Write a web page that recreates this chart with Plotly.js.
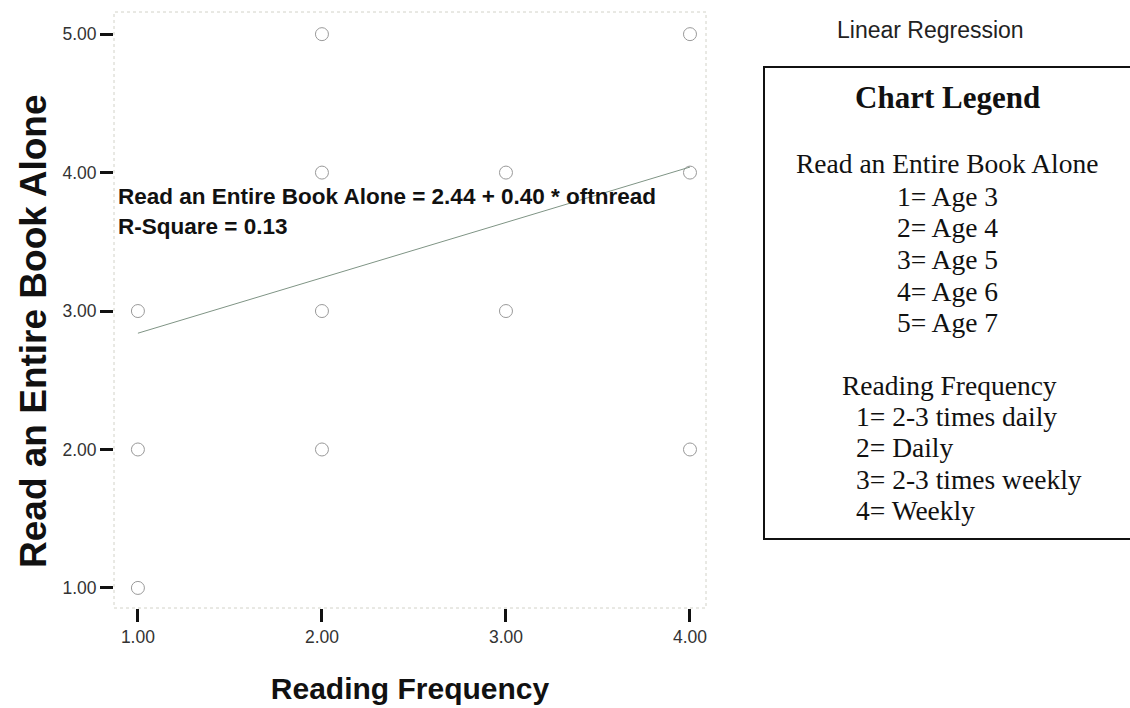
<!DOCTYPE html>
<html>
<head>
<meta charset="utf-8">
<script src="https://cdn.plot.ly/plotly-3.0.1.min.js"></script>
<style>html,body{margin:0;padding:0;background:#fff;}#chart{width:1130px;height:708px;}</style>
</head>
<body>
<div id="chart"></div>
<script>
// Data
const readingFrequency = [1, 1, 1, 2, 2, 2, 2, 3, 3, 4, 4, 4];
const readBookAlone    = [3, 2, 1, 5, 4, 3, 2, 4, 3, 5, 4, 2];
const regressionX = [1, 4];
const regressionY = [2.84, 4.04];
const tickValues = [1, 2, 3, 4, 5];
const xTickValues = [1, 2, 3, 4];
const xAxisTitle = "Reading Frequency";
const yAxisTitle = "Read an Entire Book Alone";
const equationLines = ["Read an Entire Book Alone = 2.44 + 0.40 * oftnread", "R-Square = 0.13"];
const legendTitle = "Chart Legend";
const legendAgeHeader = "Read an Entire Book Alone";
const legendAgeItems = ["1= Age 3", "2= Age 4", "3= Age 5", "4= Age 6", "5= Age 7"];
const legendFreqHeader = "Reading Frequency";
const legendFreqItems = ["1= 2-3 times daily", "2= Daily", "3= 2-3 times weekly", "4= Weekly"];

// Layout geometry (pixels)
const W = 1130, H = 708;
const L = 114, R = 706, T = 12, B = 608;
const px = v => (v - L) / (R - L);
const py = v => (B - v) / (B - T);

const sans = "Liberation Sans, Arial, Helvetica, sans-serif";
const serif = "Liberation Serif, Times New Roman, serif";

const annotations = [];
annotations.push({xref: 'paper', yref: 'paper', x: px(33), y: py(331), xanchor: 'center', yanchor: 'middle',
  textangle: -90, showarrow: false, text: '<b>' + yAxisTitle + '</b>',
  font: {family: sans, size: 37, color: '#111'}});
equationLines.forEach((t, i) => {
  annotations.push({xref: 'paper', yref: 'paper', x: px(116), y: py(196 + i * 30),
    xanchor: 'left', yanchor: 'middle', showarrow: false, text: '<b>' + t + '</b>',
    font: {family: sans, size: 22.5, color: '#111'}});
});
annotations.push({xref: 'paper', yref: 'paper', x: px(930), y: py(30), xanchor: 'center', yanchor: 'middle',
  showarrow: false, text: 'Linear Regression', font: {family: sans, size: 23, color: '#222'}});
annotations.push({xref: 'paper', yref: 'paper', x: px(947), y: py(98), xanchor: 'center', yanchor: 'middle',
  showarrow: false, text: '<b>' + legendTitle + '</b>', font: {family: serif, size: 31, color: '#111'}});
annotations.push({xref: 'paper', yref: 'paper', x: px(947), y: py(164), xanchor: 'center', yanchor: 'middle',
  showarrow: false, text: legendAgeHeader, font: {family: serif, size: 27.5, color: '#111'}});
legendAgeItems.forEach((t, i) => {
  annotations.push({xref: 'paper', yref: 'paper', x: px(947), y: py(196 + i * 31.7), xanchor: 'center', yanchor: 'middle',
    showarrow: false, text: t, font: {family: serif, size: 27.5, color: '#111'}});
});
annotations.push({xref: 'paper', yref: 'paper', x: px(950), y: py(385), xanchor: 'center', yanchor: 'middle',
  showarrow: false, text: legendFreqHeader, font: {family: serif, size: 27.5, color: '#111'}});
legendFreqItems.forEach((t, i) => {
  annotations.push({xref: 'paper', yref: 'paper', x: px(854), y: py(416 + i * 31.5), xanchor: 'left', yanchor: 'middle',
    showarrow: false, text: t, font: {family: serif, size: 27.5, color: '#111'}});
});

const shapes = [
  {type: 'rect', xref: 'paper', yref: 'paper', x0: 0, x1: 1, y0: 0, y1: 1,
   line: {color: '#d2d2c8', width: 1, dash: 'dot'}, layer: 'below'},
  {type: 'rect', xref: 'paper', yref: 'paper', x0: px(764), x1: px(1134), y0: py(539), y1: py(67),
   line: {color: '#111', width: 2}}
];

const traces = [
  {x: readingFrequency, y: readBookAlone, type: 'scatter', mode: 'markers',
   marker: {symbol: 'circle-open', size: 13, color: '#999999', line: {width: 1}}, hoverinfo: 'x+y'},
  {x: regressionX, y: regressionY, type: 'scatter', mode: 'lines',
   line: {color: '#7f9485', width: 1}, hoverinfo: 'skip'}
];

const layout = {
  width: W, height: H,
  margin: {l: L, r: W - R, t: T, b: H - B},
  paper_bgcolor: '#fff', plot_bgcolor: '#fff',
  showlegend: false,
  xaxis: {range: [0.87, 4.087], tickvals: xTickValues, tickformat: '.2f',
    ticks: 'outside', ticklen: 13, tickwidth: 3, tickcolor: '#111',
    showgrid: false, zeroline: false, showline: false,
    tickfont: {family: sans, size: 17.5, color: '#333'},
    title: {text: '<b>' + xAxisTitle + '</b>', font: {family: sans, size: 30, color: '#111'}, standoff: 31}},
  yaxis: {range: [0.855, 5.16], tickvals: tickValues, tickformat: '.2f',
    ticks: 'outside', ticklen: 13, tickwidth: 3, tickcolor: '#111',
    showgrid: false, zeroline: false, showline: false,
    tickfont: {family: sans, size: 17.5, color: '#333'}},
  annotations: annotations,
  shapes: shapes
};

Plotly.newPlot('chart', traces, layout, {displayModeBar: false, staticPlot: true});
</script>
</body>
</html>
